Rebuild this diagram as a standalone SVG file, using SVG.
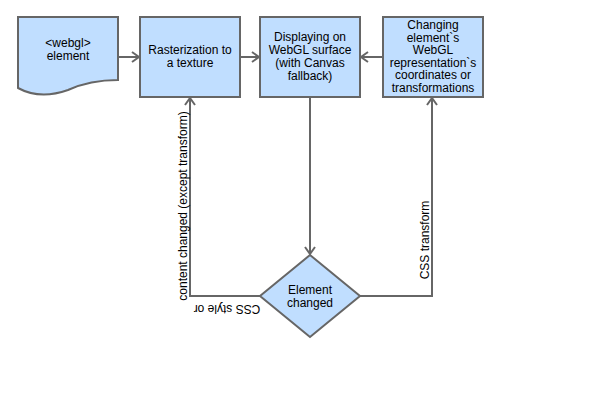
<svg xmlns="http://www.w3.org/2000/svg" width="600" height="400" viewBox="0 0 600 400">
<style>
.shape{fill:#c0deff;stroke:#666;stroke-width:2}
.edge{fill:none;stroke:#666;stroke-width:2}
text{font-family:"Liberation Sans",Arial,sans-serif;font-size:12px;fill:#000;text-anchor:middle;dominant-baseline:central}
</style>
<defs>
<marker id="arr" viewBox="0 0 10 12" refX="9" refY="6" markerWidth="10" markerHeight="12" markerUnits="userSpaceOnUse" orient="auto">
<path d="M2,1 L9,6 L2,11" fill="none" stroke="#666" stroke-width="2"/>
</marker>
</defs>
<rect width="600" height="400" fill="#fff"/>
<g id="connectors">
<path class="edge" d="M118,57 H139" marker-end="url(#arr)"/>
<path class="edge" d="M240,57 H259" marker-end="url(#arr)"/>
<path class="edge" d="M383,57 H361" marker-end="url(#arr)"/>
<path class="edge" d="M310,97 V254" marker-end="url(#arr)"/>
<path class="edge" d="M260,296 H190 V98" marker-end="url(#arr)"/>
<path class="edge" d="M360,296 H432 V98" marker-end="url(#arr)"/>
<text transform="translate(183,206) rotate(-90)">content changed (except transform)</text>
<text transform="translate(227,309) rotate(180)">CSS style or</text>
<text transform="translate(425,240) rotate(-90)">CSS transform</text>
</g>
<g id="webgl-element">
<path class="shape" d="M18,17 H118 V80 Q90,80 68,90 Q40,100 18,88 Z"/>
<text x="68" y="42.5">&lt;webgl&gt;</text>
<text x="68" y="55.5">element</text>
</g>
<g id="rasterization">
<rect class="shape" x="140" y="17" width="100" height="80"/>
<text x="190" y="50">Rasterization to</text>
<text x="190" y="63">a texture</text>
</g>
<g id="displaying">
<rect class="shape" x="260" y="17" width="100" height="80"/>
<text x="310" y="37">Displaying on</text>
<text x="310" y="50">WebGL surface</text>
<text x="310" y="63">(with Canvas</text>
<text x="310" y="76">fallback)</text>
</g>
<g id="changing">
<rect class="shape" x="383" y="17" width="100" height="80"/>
<text x="433" y="25">Changing</text>
<text x="433" y="37.5">element`s</text>
<text x="433" y="50">WebGL</text>
<text x="433" y="62.5">representation`s</text>
<text x="433" y="75">coordinates or</text>
<text x="433" y="87.5">transformations</text>
</g>
<g id="element-changed">
<path class="shape" d="M310,255 L360,296 L310,337 L260,296 Z"/>
<text x="310" y="289.5">Element</text>
<text x="310" y="302.5">changed</text>
</g>
</svg>
